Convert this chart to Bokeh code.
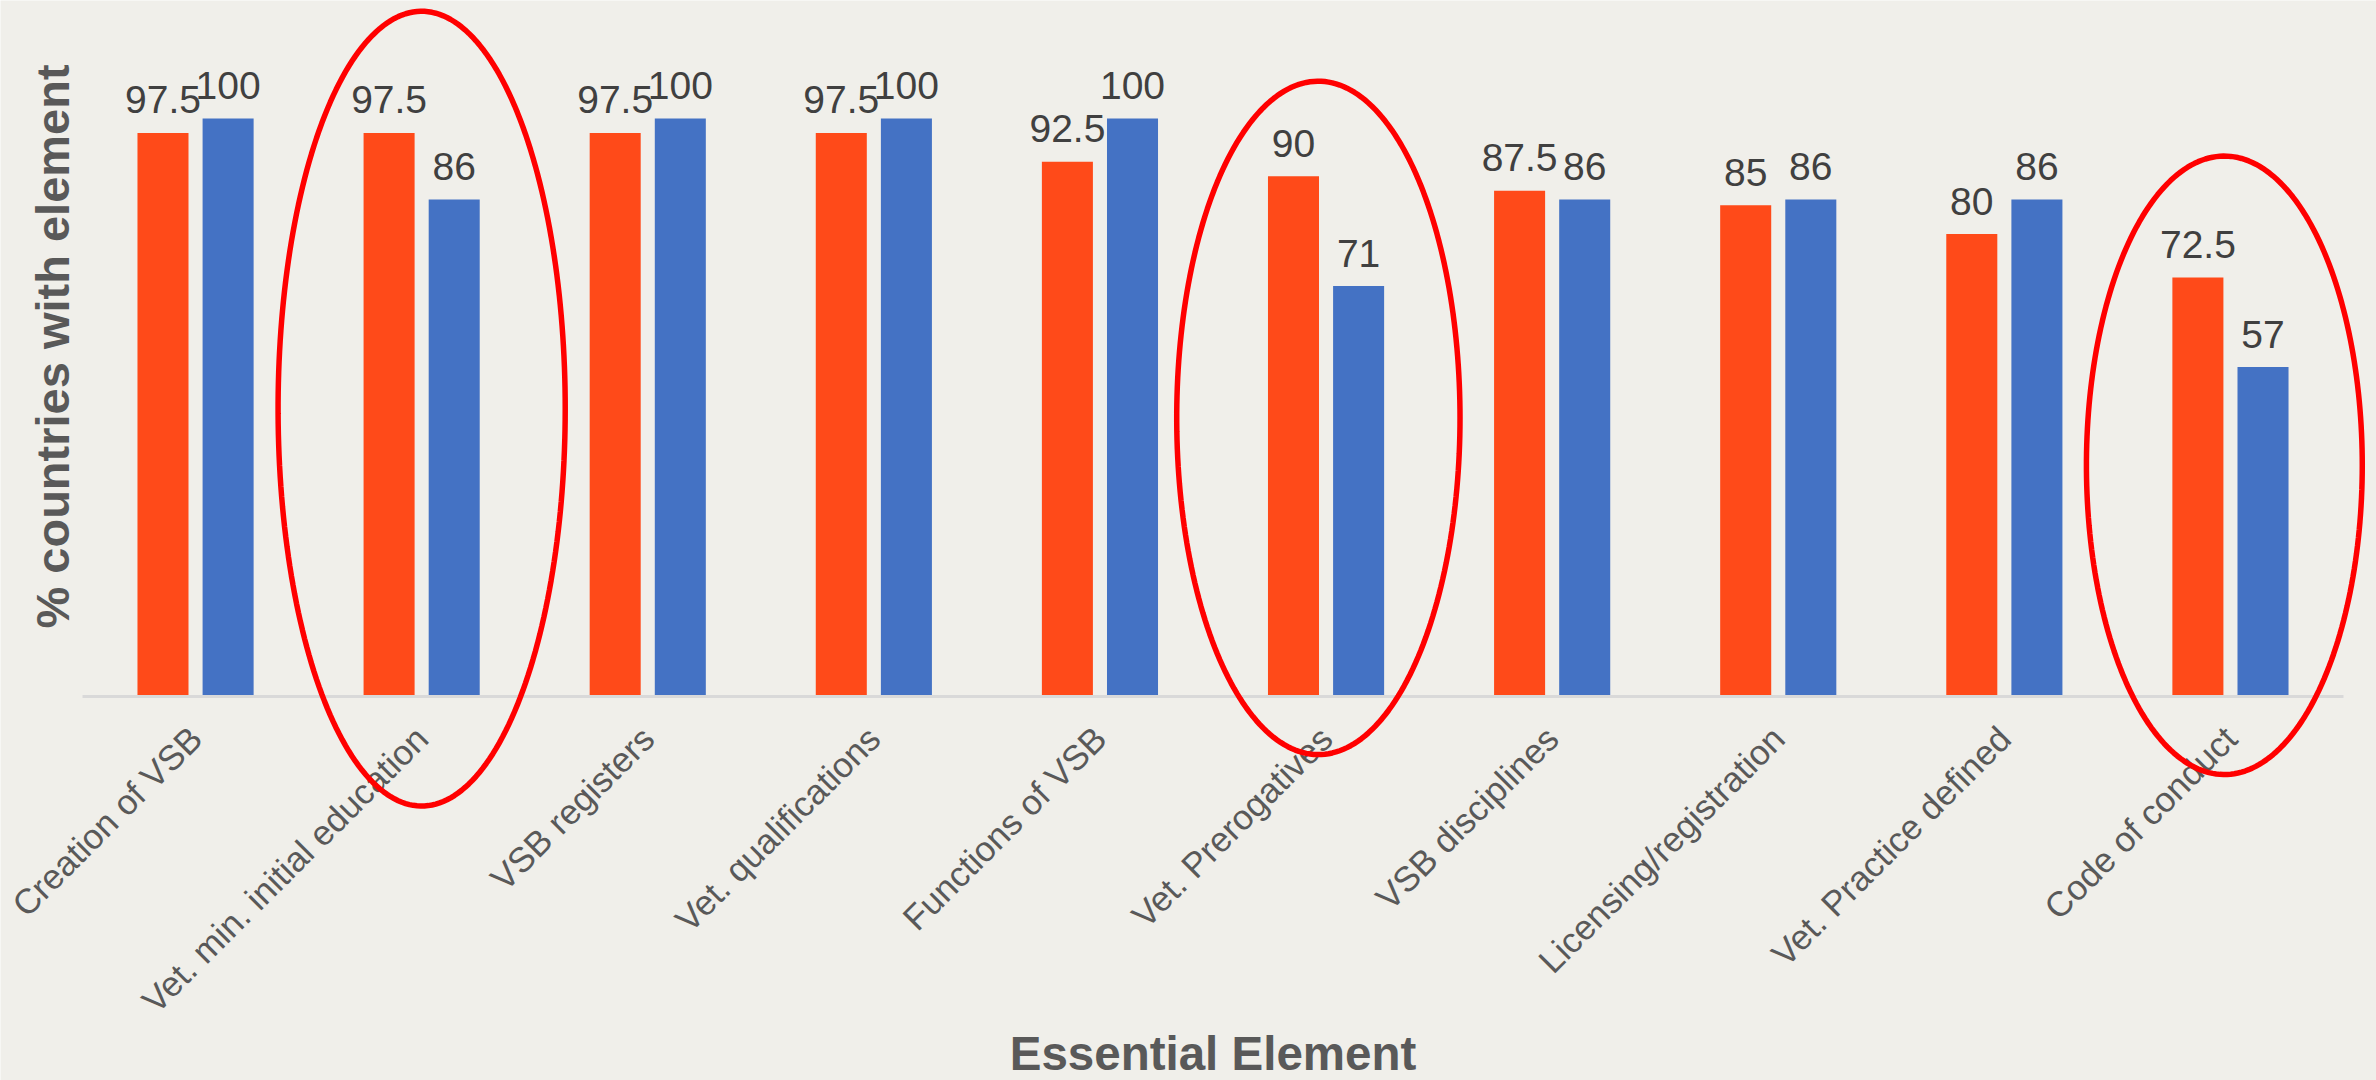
import numpy as np
from bokeh.plotting import figure
from bokeh.models import (ColumnDataSource, Range1d, FixedTicker, PolyAnnotation, Label)
from bokeh.transform import dodge
from bokeh.embed import file_html
from bokeh.resources import INLINE

# ---------------- data ----------------
categories = ["Creation of VSB", "Vet. min. initial education", "VSB registers",
              "Vet. qualifications", "Functions of VSB", "Vet. Prerogatives",
              "VSB disciplines", "Licensing/registration", "Vet. Practice defined",
              "Code of conduct"]
series_a = [97.5, 97.5, 97.5, 97.5, 92.5, 90, 87.5, 85, 80, 72.5]   # orange
series_b = [100, 86, 100, 100, 100, 71, 86, 86, 86, 57]            # blue

# highlighted categories (ellipses): index, shift, y-centre, y-height, width
hl_index = [1, 5, 9]
hl_xshift = [0.0, -0.034, -0.027]
hl_ycenter = [49.8, 48.2, 40.0]
hl_height = [137.5, 116.5, 107.0]
hl_width = [1.27, 1.253, 1.22]

x_title = "Essential Element"
y_title = "% countries with element"

BG = "#f0efea"
ORANGE = "#ff4a19"
BLUE = "#4472c4"
W, H = 2376, 1080

pos = [i + 0.5 for i in range(len(categories))]   # category slots on the x scale
src = ColumnDataSource(dict(
    pos=pos,
    a=series_a,
    b=series_b,
    a_lab=[f"{v:g}" for v in series_a],
    b_lab=[f"{v:g}" for v in series_b],
))

# scales: 226.1 px per category, 5.78 px per percentage point
PX_X = 226.1
PX_Y = 5.78
LEFT_PX, ZERO_PX = 82, 696
X0 = -LEFT_PX / PX_X
X1 = X0 + W / PX_X
Y1 = ZERO_PX / PX_Y
Y0 = Y1 - H / PX_Y

p = figure(width=W, height=H, output_backend="svg", toolbar_location=None,
           x_range=Range1d(X0, X1), y_range=Range1d(Y0, Y1),
           y_axis_location=None)
p.min_border_left = 0
p.min_border_right = 0
p.min_border_top = 0
p.min_border_bottom = 0
p.background_fill_color = BG
p.border_fill_color = BG
p.outline_line_color = None
p.grid.visible = False

off = 0.144
bw = 0.2257
p.vbar(x=dodge("pos", -off), top="a", bottom=0, width=bw, source=src,
       fill_color=ORANGE, line_color=None)
p.vbar(x=dodge("pos", off), top="b", bottom=0, width=bw, source=src,
       fill_color=BLUE, line_color=None)

common = dict(text_align="center", text_baseline="alphabetic", y_offset=-33,
              text_font_size="39px", text_color="#404040")
p.text(x=dodge("pos", -off), y="a", text="a_lab", source=src,
       text_font={"value": "Liberation Sans"}, **common)
p.text(x=dodge("pos", off), y="b", text="b_lab", source=src,
       text_font={"value": "Liberation Sans"}, **common)

# ellipses round the highlighted categories
t = np.linspace(0, 2 * np.pi, 240)
for i, dx, yc, h, w in zip(hl_index, hl_xshift, hl_ycenter, hl_height, hl_width):
    xc = pos[i] + dx
    xs = list(xc + (w / 2) * np.cos(t))
    ys = list(yc + (h / 2) * np.sin(t))
    p.add_layout(PolyAnnotation(xs=xs, ys=ys, xs_units="data", ys_units="data",
                                fill_color=None, fill_alpha=0,
                                line_color="#ff0000", line_alpha=1.0, line_width=5.5))

# x axis, drawn at y = 0
xa = p.xaxis[0]
xa.fixed_location = 0
xa.bounds = (0, len(categories))
xa.ticker = FixedTicker(ticks=pos)
overrides = {}
for x, c in zip(pos, categories):
    overrides[x] = c
    overrides[str(x)] = c
xa.major_label_overrides = overrides
xa.major_label_orientation = np.pi / 4
xa.major_label_text_font = "Liberation Sans"
xa.major_label_text_font_size = "35px"
xa.major_label_text_color = "#595959"
xa.major_label_standoff = 30
xa.major_tick_line_color = None
xa.minor_tick_line_color = None
xa.axis_line_color = "#d9d9d9"
xa.axis_line_width = 3

# axis titles
p.add_layout(Label(x=len(categories) / 2, y=(ZERO_PX - 1053) / PX_Y, text=x_title,
                   text_align="center", text_baseline="middle",
                   text_font="Liberation Sans", text_font_style="bold",
                   text_font_size="47.5px", text_color="#595959"))
p.add_layout(Label(x=X0 + 52 / PX_X, y=(ZERO_PX - 346) / PX_Y, text=y_title,
                   angle=np.pi / 2, text_align="center", text_baseline="middle",
                   text_font="Liberation Sans", text_font_style="bold",
                   text_font_size="47px", text_color="#595959"))

open("out.html", "w").write(file_html(p, INLINE))
